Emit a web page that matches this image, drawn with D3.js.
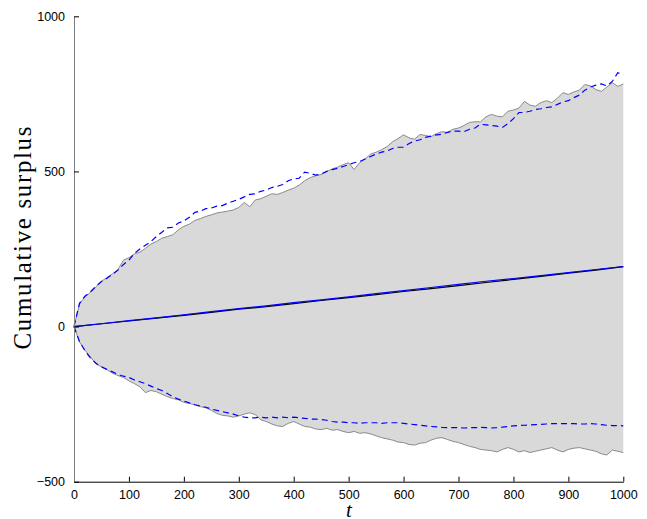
<!DOCTYPE html>
<html><head><meta charset="utf-8">
<script src="https://cdn.jsdelivr.net/npm/d3@7"></script>
<style>body{margin:0;background:#fff}svg{display:block}</style>
</head><body>
<script>
// t grid for envelope series (every 10 steps)
const tSteps = d3.range(0, 1001, 10);
const grayUpper = [0,72,96,110,128,146,158,170,184,214,222,234,240,252,266,274,285,290,296,312,323,330,342,348,355,360,366,369,372,376,384,400,386,408,412,420,428,426,432,440,446,456,470,480,486,490,500,508,514,522,528,506,528,540,556,562,570,580,596,606,618,608,604,619,616,612,622,628,626,636,640,648,658,660,660,676,684,678,676,694,698,704,726,714,710,722,728,722,736,754,748,756,762,780,776,764,758,772,786,774,782];
const grayLower = [0,-50,-76,-98,-120,-130,-139,-150,-158,-164,-175,-184,-194,-213,-206,-210,-218,-226,-232,-236,-244,-248,-252,-258,-262,-270,-280,-286,-288,-292,-288,-282,-278,-284,-300,-306,-314,-320,-322,-312,-306,-314,-322,-324,-330,-332,-328,-334,-332,-338,-342,-338,-344,-342,-346,-352,-358,-362,-366,-372,-374,-380,-382,-376,-374,-366,-360,-358,-364,-370,-374,-380,-386,-390,-396,-398,-400,-404,-396,-390,-396,-404,-400,-406,-402,-398,-394,-390,-398,-404,-396,-392,-390,-394,-398,-402,-410,-414,-398,-402,-406];
const blueUpper = [0,75,98,112,130,145,156,168,182,200,214,236,250,262,274,290,304,318,320,334,340,352,368,372,380,382,388,390,398,404,410,418,426,428,436,440,448,452,458,470,476,478,498,494,488,492,500,506,510,516,522,528,532,540,548,556,562,566,574,578,578,590,598,602,610,614,618,620,626,630,630,628,636,640,652,650,648,646,642,654,670,690,690,694,700,702,706,708,716,724,728,738,746,762,772,778,782,776,790,818,812];
const blueLower = [0,-48,-78,-102,-118,-130,-138,-146,-154,-160,-164,-172,-178,-184,-192,-200,-206,-216,-226,-234,-240,-246,-252,-256,-260,-266,-270,-274,-278,-282,-288,-292,-294,-294,-292,-294,-292,-294,-292,-294,-292,-294,-296,-298,-298,-300,-302,-306,-308,-308,-310,-310,-312,-310,-310,-310,-312,-310,-310,-310,-312,-314,-316,-318,-320,-322,-323,-325,-326,-326,-326,-327,-326,-326,-325,-326,-327,-326,-324,-322,-320,-319,-318,-317,-316,-315,-314,-313,-313,-313,-313,-313,-314,-314,-313,-314,-316,-318,-319,-319,-320];
// mean lines (every 50 steps)
const meanSteps = d3.range(0, 1001, 50);
const blueMean = [0,9,19,28,38,48,58,67,77,86,96,106,116,126,136,146,155,164,174,184,193];
const blackMean = [0,9,18,27,36,46,56,64,74,84,93,103,113,122,132,142,152,162,172,182,193];
const xTicks = [0,100,200,300,400,500,600,700,800,900,1000];
const yTicks = [-500,0,500,1000];

const W = 647, H = 519;
const svg = d3.select("body").append("svg").attr("width", W).attr("height", H);
const x = d3.scaleLinear().domain([0, 1000]).range([74, 623.3]);
const y = d3.scaleLinear().domain([-500, 1000]).range([481.7, 16.3]);

const area = d3.area().x((d, i) => x(tSteps[i])).y0((d, i) => y(grayLower[i])).y1(d => y(d));
svg.append("path").datum(grayUpper).attr("d", area).attr("fill", "#d9d9d9");

const lineT = d3.line().x((d, i) => x(tSteps[i])).y(d => y(d));
const lineM = d3.line().x((d, i) => x(meanSteps[i])).y(d => y(d));

[grayUpper, grayLower].forEach(s => svg.append("path").datum(s).attr("d", lineT)
  .attr("fill", "none").attr("stroke", "#8a8a8a").attr("stroke-width", 1));
svg.append("path").datum(blackMean).attr("d", lineM).attr("fill", "none").attr("stroke", "#000").attr("stroke-width", 1.2);
svg.append("path").datum(blueMean).attr("d", lineM).attr("fill", "none").attr("stroke", "#0000ff").attr("stroke-width", 1.2);
[blueUpper, blueLower].forEach(s => svg.append("path").datum(s).attr("d", lineT)
  .attr("fill", "none").attr("stroke", "#0000ff").attr("stroke-width", 1.2).attr("stroke-dasharray", "6,4"));

// axes
const xAxis = svg.append("g").attr("transform", `translate(0,${y(-500)})`)
  .call(d3.axisBottom(x).tickValues(xTicks).tickSizeInner(-5).tickSizeOuter(0).tickPadding(8).tickFormat(d3.format("d")));
xAxis.select(".domain").attr("stroke", "#000");
xAxis.selectAll("line").attr("stroke", "#000");
xAxis.selectAll("text").attr("font-family", "'Liberation Sans', Arial, sans-serif").attr("font-size", 12.5).attr("fill", "#000");

const yAxis = svg.append("g").attr("transform", `translate(${x(0)},0)`)
  .call(d3.axisLeft(y).tickValues(yTicks).tickSizeInner(-5).tickSizeOuter(0).tickPadding(9).tickFormat(d3.format("d")));
yAxis.select(".domain").attr("stroke", "#808080");
yAxis.selectAll("line").attr("stroke", "#000");
yAxis.selectAll("text").attr("font-family", "'Liberation Sans', Arial, sans-serif").attr("font-size", 12.5).attr("fill", "#000");

svg.append("text").attr("transform", "translate(31,238) rotate(-90)").attr("text-anchor", "middle")
  .attr("font-family", "'Liberation Serif', 'DejaVu Serif', serif").attr("font-size", 25)
  .attr("textLength", 223).attr("lengthAdjust", "spacing").text("Cumulative surplus");
svg.append("text").attr("x", 349).attr("y", 517).attr("text-anchor", "middle")
  .attr("font-family", "'Liberation Serif', serif").attr("font-style", "italic").attr("font-size", 21).text("t");
</script>
</body></html>
